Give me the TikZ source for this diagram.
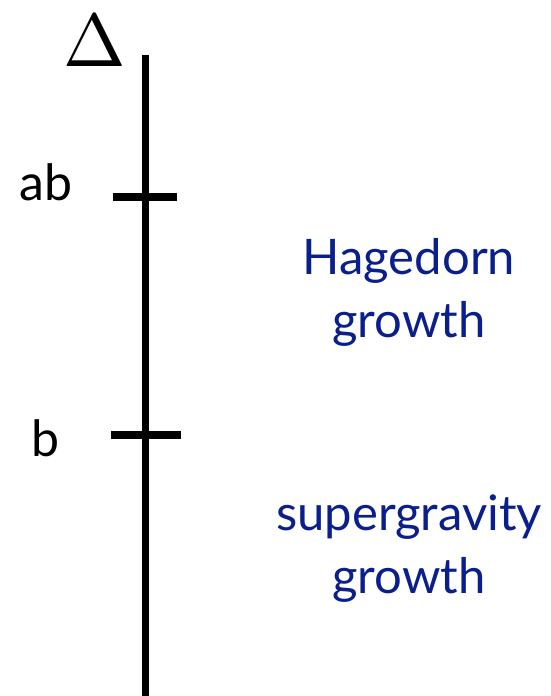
\documentclass[tikz,border=0pt]{standalone}
\usepackage{fontspec}
\setmainfont{Lato}
\definecolor{labelblue}{RGB}{10,30,140}
\begin{document}
\begin{tikzpicture}[x=1pt,y=-1pt,
  axis/.style={line width=7pt},
  tick/.style={line width=8pt},
  lbl/.style={inner sep=0pt,anchor=base,font=\fontsize{50}{60}\selectfont},
  region/.style={lbl,text=labelblue,font=\fontsize{49}{60}\selectfont}]
\useasboundingbox (0,0) rectangle (551,696);
\coordinate (top) at (145,55);
\coordinate (bot) at (145,696);
\draw[axis] (top) -- (bot);
\coordinate (t1l) at (113,197); \coordinate (t1r) at (177,197);
\coordinate (t2l) at (111,435); \coordinate (t2r) at (181,435);
\draw[tick] (t1l) -- (t1r);
\draw[tick] (t2l) -- (t2r);
\node[inner sep=0pt,scale=7.5] (delta) at (95,41) {$\Delta$};
\node[lbl] (ab) at (46,200) {ab};
\node[lbl] (b) at (45,456) {b};
\node[region] (hag) at (409,274) {Hagedorn};
\node[region] (hg) at (409,337) {growth};
\node[region] (sup) at (409,530) {supergravity};
\node[region] (sg) at (409,593) {growth};
\end{tikzpicture}
\end{document}
